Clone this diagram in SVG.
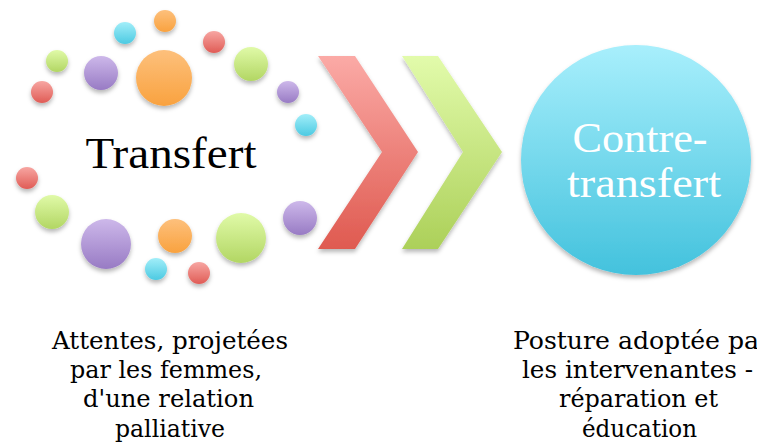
<svg xmlns="http://www.w3.org/2000/svg" width="757" height="446" viewBox="0 0 757 446">
  <defs>
    <linearGradient id="gOrange" x1="0" y1="0" x2="0" y2="1"><stop offset="0" stop-color="#fdc07c"/><stop offset="1" stop-color="#f9a23f"/></linearGradient>
    <linearGradient id="gCyan" x1="0" y1="0" x2="0" y2="1"><stop offset="0" stop-color="#a2eef9"/><stop offset="1" stop-color="#4ccae2"/></linearGradient>
    <linearGradient id="gRed" x1="0" y1="0" x2="0" y2="1"><stop offset="0" stop-color="#f7a6a2"/><stop offset="1" stop-color="#e05c55"/></linearGradient>
    <linearGradient id="gGreen" x1="0" y1="0" x2="0" y2="1"><stop offset="0" stop-color="#e0faa8"/><stop offset="1" stop-color="#b2d663"/></linearGradient>
    <linearGradient id="gPurple" x1="0" y1="0" x2="0" y2="1"><stop offset="0" stop-color="#cdb8ea"/><stop offset="1" stop-color="#987bc4"/></linearGradient>
    <linearGradient id="gRedChev" x1="0" y1="0" x2="0" y2="1"><stop offset="0" stop-color="#fbaaa6"/><stop offset="1" stop-color="#df5a50"/></linearGradient>
    <linearGradient id="gGreenChev" x1="0" y1="0" x2="0" y2="1"><stop offset="0" stop-color="#e2fbab"/><stop offset="1" stop-color="#acd059"/></linearGradient>
    <linearGradient id="gBig" x1="0" y1="0" x2="0" y2="1"><stop offset="0" stop-color="#a8effc"/><stop offset="1" stop-color="#43c2dd"/></linearGradient>
    <filter id="shadow" x="-30%" y="-30%" width="160%" height="170%">
      <feDropShadow dx="0" dy="3" stdDeviation="2" flood-color="#000" flood-opacity="0.28"/>
    </filter>
  </defs>
  <style>
    .o { fill: url(#gOrange); filter: url(#shadow); }
    .c { fill: url(#gCyan); filter: url(#shadow); }
    .r { fill: url(#gRed); filter: url(#shadow); }
    .g { fill: url(#gGreen); filter: url(#shadow); }
    .p { fill: url(#gPurple); filter: url(#shadow); }
    .serif { font-family: "Liberation Serif", "DejaVu Serif", serif; }
    .title { font-size: 44px; fill: #000; }
    .big { font-size: 42px; fill: #fff; }
    .label { font-family: "DejaVu Serif", "Liberation Serif", serif; font-stretch: condensed; font-size: 25px; fill: #000; }
  </style>
  <rect width="757" height="446" fill="#fff"/>

  <g id="node-transfert">
    <circle class="o" cx="165" cy="21" r="11"/>
    <circle class="c" cx="125" cy="33" r="11"/>
    <circle class="r" cx="214" cy="42" r="11"/>
    <circle class="g" cx="57" cy="61" r="11"/>
    <circle class="p" cx="101" cy="73" r="17"/>
    <circle class="o" cx="164" cy="78" r="28"/>
    <circle class="g" cx="251" cy="64" r="17"/>
    <circle class="r" cx="42" cy="92" r="11"/>
    <circle class="p" cx="288" cy="92" r="11"/>
    <circle class="c" cx="306" cy="125" r="11"/>
    <circle class="r" cx="27" cy="178" r="11"/>
    <circle class="g" cx="52" cy="212" r="17"/>
    <circle class="p" cx="106" cy="244" r="25"/>
    <circle class="o" cx="175" cy="236" r="17"/>
    <circle class="g" cx="241" cy="238" r="25"/>
    <circle class="p" cx="300" cy="218" r="17"/>
    <circle class="c" cx="156" cy="269" r="11"/>
    <circle class="r" cx="199" cy="273" r="11"/>
    <text class="serif title" x="171" y="168" text-anchor="middle" textLength="171" lengthAdjust="spacingAndGlyphs">Transfert</text>
  </g>

  <g id="connectors">
    <polygon points="318,56 355,56 418,152 355,249 318,249 382,152" fill="url(#gRedChev)" filter="url(#shadow)"/>
    <polygon points="402,56 438,56 502,152 438,249 402,249 463,152" fill="url(#gGreenChev)" filter="url(#shadow)"/>
  </g>

  <g id="node-contre-transfert">
    <circle cx="636" cy="160" r="115" fill="url(#gBig)" filter="url(#shadow)"/>
    <text class="serif big" x="640" y="152" text-anchor="middle" textLength="135" lengthAdjust="spacingAndGlyphs">Contre-</text>
    <text class="serif big" x="644" y="197" text-anchor="middle" textLength="154" lengthAdjust="spacingAndGlyphs">transfert</text>
  </g>

  <g id="label-transfert" class="label" text-anchor="middle">
    <text x="170" y="349" textLength="236" lengthAdjust="spacingAndGlyphs">Attentes, projetées</text>
    <text x="166" y="378" textLength="192" lengthAdjust="spacingAndGlyphs">par les femmes,</text>
    <text x="168.5" y="407" textLength="171" lengthAdjust="spacingAndGlyphs">d'une relation</text>
    <text x="170" y="437" textLength="110" lengthAdjust="spacingAndGlyphs">palliative</text>
  </g>

  <g id="label-contre-transfert" class="label" text-anchor="middle">
    <text x="513" y="349" text-anchor="start" textLength="246" lengthAdjust="spacingAndGlyphs">Posture adoptée pa</text>
    <text x="637.5" y="378" textLength="231" lengthAdjust="spacingAndGlyphs">les intervenantes -</text>
    <text x="638.5" y="407" textLength="159" lengthAdjust="spacingAndGlyphs">réparation et</text>
    <text x="639.5" y="437" textLength="115" lengthAdjust="spacingAndGlyphs">éducation</text>
  </g>
</svg>
